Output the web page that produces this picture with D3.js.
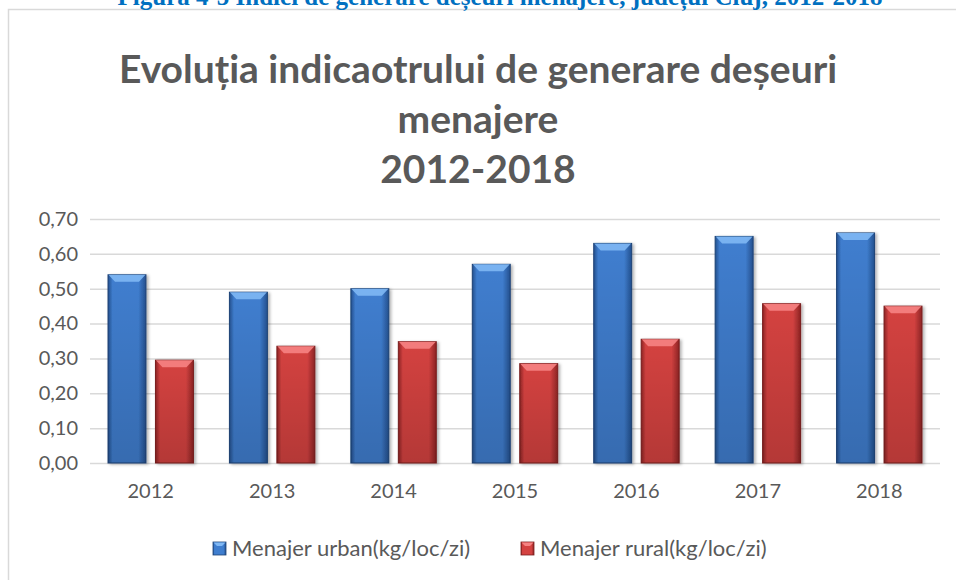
<!DOCTYPE html>
<html>
<head>
<meta charset="utf-8">
<script src="https://cdn.jsdelivr.net/npm/d3@7"></script>
<style>
  body { margin: 0; background: #fff; }
  svg { display: block; }
</style>
</head>
<body>
<div id="chart"></div>
<script>
// Data
const years = ['2012', '2013', '2014', '2015', '2016', '2017', '2018'];
const urban = [0.54, 0.49, 0.50, 0.57, 0.63, 0.65, 0.66];
const rural = [0.295, 0.335, 0.348, 0.285, 0.355, 0.457, 0.45];
const yTicks = [0, 0.1, 0.2, 0.3, 0.4, 0.5, 0.6, 0.7];
const seriesNames = ['Menajer urban(kg/loc/zi)', 'Menajer rural(kg/loc/zi)'];
const titleLines = ['Evoluția indicaotrului de generare deșeuri', 'menajere', '2012-2018'];
const figCaption = 'Figura 4-5 Indici de generare deșeuri menajere, județul Cluj, 2012-2018';

const width = 956, height = 580;
const margin = { top: 219, right: 16, bottom: 117, left: 90 };
const textColor = '#595959';
const gridColor = '#D9D9D9';
const font = 'Lato, "Open Sans", sans-serif';

const palette = {
  urban: { edge: '#24508F', mid: '#3F7ECF', bevel: '#80B8F4', line: '#1F4477' },
  rural: { edge: '#8E2424', mid: '#D44241', bevel: '#F68383', line: '#7A1E1E' }
};

const svg = d3.select('#chart')
  .append('svg')
  .attr('width', width)
  .attr('height', height);

const defs = svg.append('defs');
Object.entries(palette).forEach(([key, c]) => {
  const g = defs.append('linearGradient')
    .attr('id', 'grad-' + key)
    .attr('x1', 0).attr('x2', 1).attr('y1', 0).attr('y2', 0);
  g.append('stop').attr('offset', '0%').attr('stop-color', c.edge);
  g.append('stop').attr('offset', '12%').attr('stop-color', c.mid);
  g.append('stop').attr('offset', '80%').attr('stop-color', c.mid);
  g.append('stop').attr('offset', '100%').attr('stop-color', c.edge);

  const v = defs.append('linearGradient')
    .attr('id', 'shade-' + key)
    .attr('x1', 0).attr('x2', 0).attr('y1', 0).attr('y2', 1);
  v.append('stop').attr('offset', '0%').attr('stop-color', '#000').attr('stop-opacity', 0);
  v.append('stop').attr('offset', '100%').attr('stop-color', '#000').attr('stop-opacity', 0.15);
});

const shadow = defs.append('filter').attr('id', 'shadow')
  .attr('x', '-20%').attr('y', '-5%').attr('width', '150%').attr('height', '115%');
shadow.append('feDropShadow')
  .attr('dx', 2).attr('dy', 1).attr('stdDeviation', 1.5)
  .attr('flood-color', '#000').attr('flood-opacity', 0.3);

// Outer frame (only left and top edges are visible)
svg.append('path')
  .attr('d', `M8.5,${height} V9.5 H${width}`)
  .attr('fill', 'none')
  .attr('stroke', gridColor)
  .attr('stroke-width', 1.5);

// Figure caption, cut by the top edge like in the source page
svg.append('text')
  .attr('x', 500)
  .attr('y', 5)
  .attr('text-anchor', 'middle')
  .attr('font-family', '"Liberation Serif", "Times New Roman", serif')
  .attr('font-weight', 'bold')
  .attr('font-size', 25)
  .attr('fill', '#0070C0')
  .text(figCaption);

// Chart title
svg.append('g')
  .selectAll('text')
  .data(titleLines)
  .join('text')
  .attr('x', 478)
  .attr('y', (d, i) => 83 + i * 50)
  .attr('text-anchor', 'middle')
  .attr('font-family', font)
  .attr('font-weight', 'bold')
  .attr('font-size', 39)
  .attr('fill', textColor)
  .text(d => d);

// Scales
const x = d3.scaleBand()
  .domain(years)
  .range([margin.left, width - margin.right])
  .paddingInner(0)
  .paddingOuter(0);

const x1 = d3.scaleBand()
  .domain(['urban', 'rural'])
  .range([18, x.bandwidth() - 18])
  .paddingInner(0.2);

const y = d3.scaleLinear()
  .domain([0, 0.7])
  .range([height - margin.bottom, margin.top]);

const fmt = d => d3.format('.2f')(d).replace('.', ',');

// Gridlines + y axis labels
const yAxis = d3.axisLeft(y)
  .tickValues(yTicks)
  .tickSize(-(width - margin.left - margin.right))
  .tickPadding(12)
  .tickFormat(fmt);

svg.append('g')
  .attr('transform', `translate(${margin.left},0)`)
  .call(yAxis)
  .call(g => g.select('.domain').remove())
  .call(g => g.selectAll('.tick line').attr('stroke', gridColor).attr('stroke-width', 1.5))
  .call(g => g.selectAll('.tick text')
    .attr('fill', textColor)
    .attr('font-family', font)
    .attr('font-size', 20));

// x axis labels
const xAxis = d3.axisBottom(x).tickSize(0).tickPadding(21);
svg.append('g')
  .attr('transform', `translate(0,${height - margin.bottom})`)
  .call(xAxis)
  .call(g => g.select('.domain').remove())
  .call(g => g.selectAll('.tick text')
    .attr('fill', textColor)
    .attr('font-family', font)
    .attr('font-size', 20));

// Bars
const rows = years.map((yr, i) => ({ year: yr, urban: urban[i], rural: rural[i] }));
const bevelH = 7;

['urban', 'rural'].forEach(key => {
  const c = palette[key];
  const bars = svg.append('g')
    .selectAll('g')
    .data(rows)
    .join('g')
    .attr('transform', d => `translate(${x(d.year) + x1(key)},0)`);

  const w = x1.bandwidth();

  bars.append('rect')
    .attr('x', 0)
    .attr('y', d => y(d[key]))
    .attr('width', w)
    .attr('height', d => y(0) - y(d[key]))
    .attr('fill', `url(#grad-${key})`)
    .attr('stroke', c.line)
    .attr('stroke-width', 1)
    .attr('filter', 'url(#shadow)');

  bars.append('rect')
    .attr('x', 0)
    .attr('y', d => y(d[key]))
    .attr('width', w)
    .attr('height', d => y(0) - y(d[key]))
    .attr('fill', `url(#shade-${key})`);

  // top bevel
  bars.append('path')
    .attr('d', d => {
      const t = y(d[key]);
      return `M0.5,${t} H${w - 0.5} L${w - bevelH},${t + bevelH} H${bevelH} Z`;
    })
    .attr('fill', c.bevel)
    .attr('opacity', 0.9);
});

// Legend
const legend = svg.append('g').attr('transform', 'translate(213,548)');
const legendItems = [
  { key: 'urban', label: seriesNames[0], x: 0 },
  { key: 'rural', label: seriesNames[1], x: 308 }
];
const li = legend.selectAll('g')
  .data(legendItems)
  .join('g')
  .attr('transform', d => `translate(${d.x},0)`);

li.append('rect')
  .attr('x', 0).attr('y', -6)
  .attr('width', 13).attr('height', 13)
  .attr('fill', d => `url(#grad-${d.key})`)
  .attr('stroke', d => palette[d.key].line)
  .attr('stroke-width', 0.8);

li.append('path')
  .attr('d', 'M0.5,-5.5 H12.5 L9,-2 H4 Z')
  .attr('fill', d => palette[d.key].bevel);

li.append('text')
  .attr('x', 19)
  .attr('y', 8)
  .attr('fill', textColor)
  .attr('font-family', font)
  .attr('font-size', 22)
  .text(d => d.label);
</script>
</body>
</html>
